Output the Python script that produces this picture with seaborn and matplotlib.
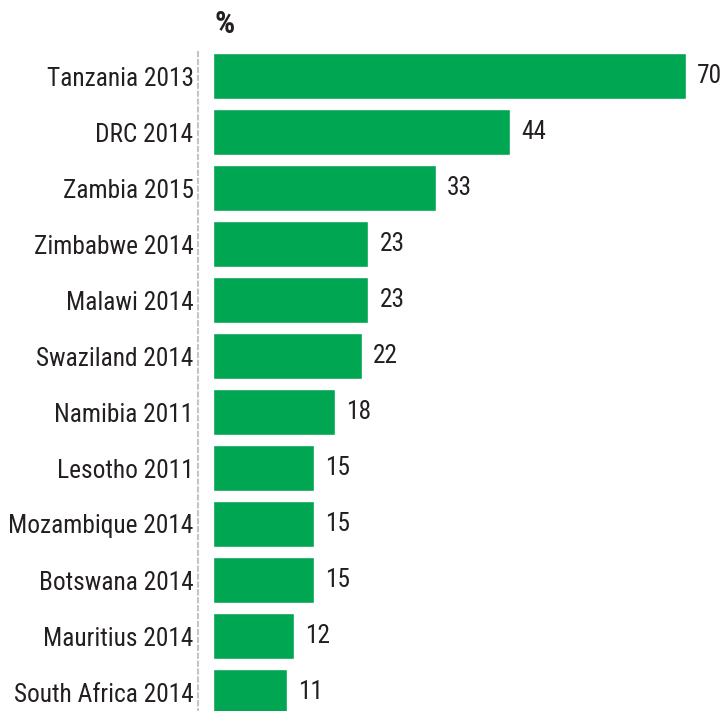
import matplotlib
matplotlib.use("Agg")
import matplotlib.pyplot as plt
from matplotlib import font_manager
from matplotlib.textpath import TextPath
from matplotlib.font_manager import FontProperties
import seaborn as sns
import pandas as pd

countries = ["Tanzania 2013", "DRC 2014", "Zambia 2015", "Zimbabwe 2014", "Malawi 2014",
             "Swaziland 2014", "Namibia 2011", "Lesotho 2011", "Mozambique 2014",
             "Botswana 2014", "Mauritius 2014", "South Africa 2014"]
values = [70, 44, 33, 23, 23, 22, 18, 15, 15, 15, 12, 11]
unit_label = "%"

df = pd.DataFrame({"country": countries, "value": values})

sns.set_theme(style="white")

# prefer a narrow sans face when one is available
installed = {f.name for f in font_manager.fontManager.ttflist}
candidates = ["Liberation Sans Narrow", "DejaVu Sans Condensed", "Roboto Condensed",
              "Arial Narrow", "Roboto", "DejaVu Sans"]
family = next(c for c in candidates if c in installed)
plt.rcParams["font.family"] = [family, "DejaVu Sans"]

# size the text so the longest label spans about 183 px
W, H = 725, 711
probe = TextPath((0, 0), "Mozambique 2014", size=18 * 100 / 72,
                 prop=FontProperties(family=family))
width_px = probe.get_extents().width
fs = min(18.5, 18 * 183 / width_px)

fig = plt.figure(figsize=(W / 100, H / 100), dpi=100)
left = 213 / W
ax = fig.add_axes([left, 0, 1 - left, 1])

green = "#00a651"
text_col = "#231f20"

sns.barplot(data=df, x="value", y="country", orient="h", color=green,
            width=0.82, saturation=1, ax=ax)

px_per_unit = 6.76
ax.set_xlim(0, (W - 213) / px_per_unit)
ax.set_ylim((H - 76) / 56, -76 / 56)

for i, v in enumerate(values):
    ax.text(v + 11 / px_per_unit, i, f"{v}", va="center", ha="left",
            fontsize=fs, color=text_col)

ax.set_xlabel("")
ax.set_ylabel("")
ax.set_xticks([])
ax.tick_params(axis="y", length=0, pad=3.0, labelsize=fs, labelcolor=text_col)

for s in ["top", "right", "bottom"]:
    ax.spines[s].set_visible(False)
sp = ax.spines["left"]
sp.set_position(("outward", 11))
sp.set_linestyle((0, (2.0, 1.8)))
sp.set_color("#c4c4c4")
sp.set_linewidth(1.5)
sp.set_bounds(-0.43, (H - 76) / 56)

fig.text(215 / W, 1 - 24 / H, unit_label, ha="left", va="center",
         fontsize=fs * 1.25, fontweight="bold", color=text_col)

fig.savefig("out.png", dpi=100)
